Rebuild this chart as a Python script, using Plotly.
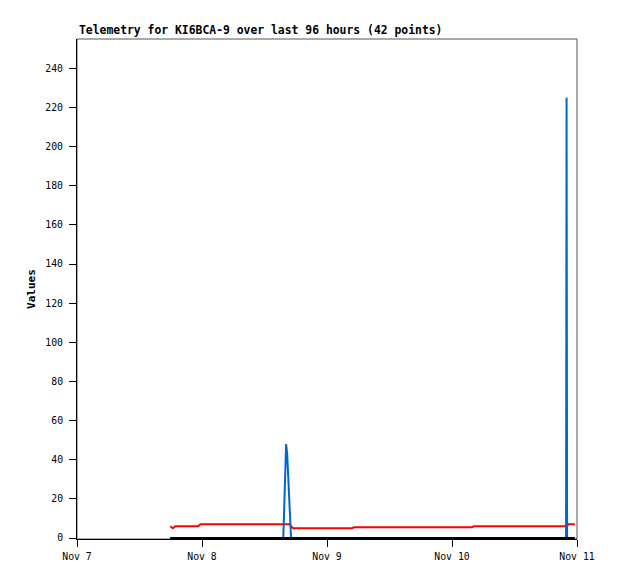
import plotly.graph_objects as go
from datetime import datetime, timedelta

# hours after Nov 7 00:00
hours = [17.9, 18.4, 18.9, 23.3, 23.7, 26.0, 29.0, 32.0, 35.0, 38.0,
         39.6, 39.75, 39.95, 40.15, 40.35, 40.5, 40.7, 40.85, 41.1, 41.5,
         44.0, 47.0, 50.0, 52.8, 53.2, 56.0, 60.0, 64.0, 68.0, 72.0,
         75.8, 76.2, 80.0, 84.0, 88.0, 91.0, 93.9, 94.0, 94.1, 94.3,
         95.0, 95.6]
blue_vals = [0, 0, 0, 0, 0, 0, 0, 0, 0, 0,
             0, 12, 36, 48, 43, 33, 24, 15, 0, 0,
             0, 0, 0, 0, 0, 0, 0, 0, 0, 0,
             0, 0, 0, 0, 0, 0, 0, 225, 0, 0,
             0, 0]
red_vals = [6, 5, 6, 6, 7, 7, 7, 7, 7, 7,
            7, 7, 7, 7, 7, 7, 7, 7, 6, 5,
            5, 5, 5, 5, 5.5, 5.5, 5.5, 5.5, 5.5, 5.5,
            5.5, 6, 6, 6, 6, 6, 6, 6, 6, 7,
            7, 7]
black_vals = [0] * 42
y_ticks = list(range(0, 241, 20))
x_tick_labels = ["Nov 7", "Nov 8", "Nov 9", "Nov 10", "Nov 11"]

base = datetime(2024, 11, 7)
times = [base + timedelta(hours=h) for h in hours]
x_ticks = [base + timedelta(days=i) for i in range(5)]

MONO = "DejaVu Sans Mono"

fig = go.Figure()
fig.add_trace(go.Scatter(x=times, y=red_vals, mode="lines",
                         line=dict(color="#ff0000", width=2), showlegend=False))
fig.add_trace(go.Scatter(x=times, y=blue_vals, mode="lines",
                         line=dict(color="#0066cc", width=2), showlegend=False))
fig.add_trace(go.Scatter(x=times, y=black_vals, mode="lines",
                         line=dict(color="#000000", width=2), showlegend=False))

fig.update_layout(
    width=610, height=571,
    margin=dict(l=69, r=41, t=31, b=40, autoexpand=False),
    paper_bgcolor="white", plot_bgcolor="white",
    font=dict(family=MONO, size=9.8, color="black"),
    xaxis=dict(range=[x_ticks[0], x_ticks[-1]], tickvals=x_ticks, ticktext=x_tick_labels,
               showgrid=False, zeroline=False, showline=True, linecolor="black", linewidth=1,
               ticks="outside", ticklen=7, tickcolor="black", tickfont=dict(size=9.8),
               ticklabelstandoff=1),
    yaxis=dict(range=[-0.5, 255], tickvals=y_ticks, showgrid=False, zeroline=False,
               showline=True, linecolor="black", linewidth=1,
               ticks="outside", ticklen=7, tickcolor="black", tickfont=dict(size=9.8),
               ticklabelstandoff=4,
               title=dict(text="<b>Values</b>", font=dict(size=11), standoff=7)),
    shapes=[dict(type="rect", xref="paper", yref="paper", x0=0, x1=1, y0=0, y1=1,
                 line=dict(color="#555555", width=1), layer="below")],
    annotations=[dict(text="<b>Telemetry for KI6BCA-9 over last 96 hours (42 points)</b>",
                      xref="paper", yref="paper", x=0, y=1, xanchor="left", yanchor="bottom",
                      yshift=0, showarrow=False, font=dict(size=11.4, family=MONO))],
)

fig.write_html("out.html")
